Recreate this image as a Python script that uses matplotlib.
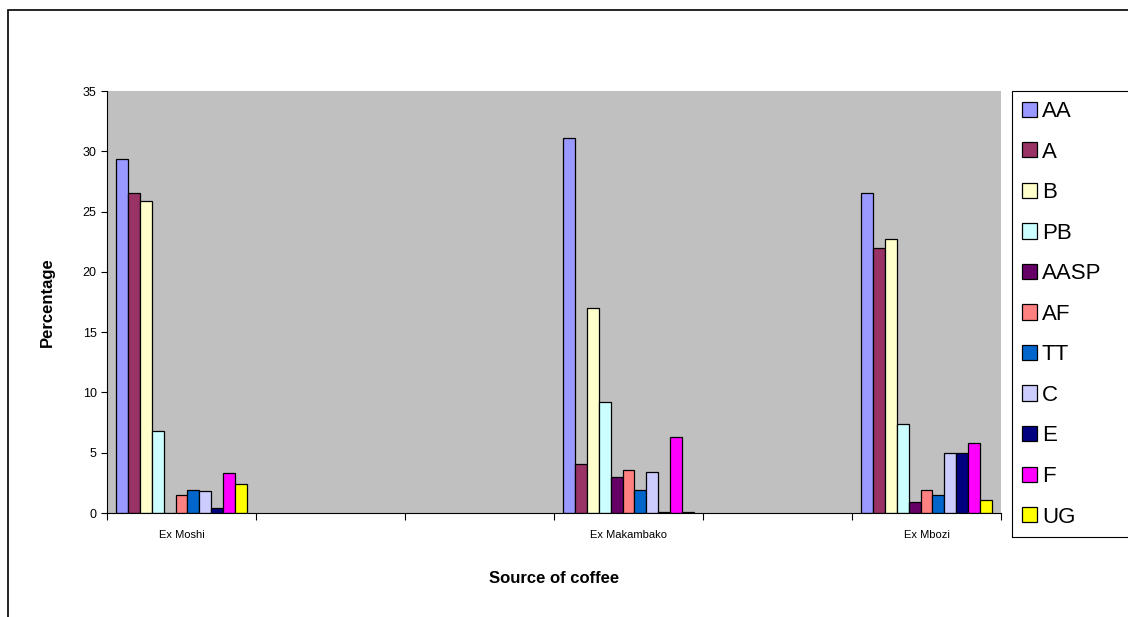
import numpy as np
import matplotlib
matplotlib.use('Agg')
import matplotlib.pyplot as plt
from matplotlib.patches import Rectangle

plt.rcParams['font.family'] = ['Liberation Sans', 'DejaVu Sans']

# coffee grades (series)
grades = ['AA', 'A', 'B', 'PB', 'AASP', 'AF', 'TT', 'C', 'E', 'F', 'UG']
colors = ['#9999FF', '#993366', '#FFFFCC', '#CCFFFF', '#660066', '#FF8080',
          '#0066CC', '#CCCCFF', '#000080', '#FF00FF', '#FFFF00']

# category axis as in the sheet (blank rows kept)
sources = ['Ex Moshi', '', '', 'Ex Makambako', '', 'Ex Mbozi']

# percentage per grade
ex_moshi = [29.4, 26.5, 25.9, 6.8, 0.0, 1.5, 1.9, 1.8, 0.4, 3.3, 2.4]
ex_makambako = [31.1, 4.1, 17.0, 9.2, 3.0, 3.6, 1.9, 3.4, 0.1, 6.3, 0.1]
ex_mbozi = [26.5, 22.0, 22.7, 7.4, 0.9, 1.9, 1.5, 5.0, 5.0, 5.8, 1.1]

values = {'Ex Moshi': ex_moshi, 'Ex Makambako': ex_makambako, 'Ex Mbozi': ex_mbozi}

W, H = 1128, 617
fig = plt.figure(figsize=(W / 100, H / 100), dpi=100)

# outer chart border (runs off the right and bottom of the image)
fig.patches.append(Rectangle((8 / W, -0.5), 1.5, 1.5 - 10 / H, transform=fig.transFigure,
                             fill=False, edgecolor='black', linewidth=1.2))

ax = fig.add_axes([107 / W, 1 - 513 / H, (1001 - 107) / W, (513 - 91) / H])
ax.set_facecolor('#C0C0C0')

n = len(grades)
width = 0.88 / n
for i, src in enumerate(sources):
    if src == '':
        continue
    vals = values[src]
    x = i + 0.06 + width * np.arange(n) + width / 2
    ax.bar(x, vals, width=width, color=colors, edgecolor='black', linewidth=0.9)

ax.set_xlim(0, len(sources))
ax.set_ylim(0, 35)
ax.set_yticks(np.arange(0, 36, 5))
ax.tick_params(axis='y', labelsize=9, length=4, direction='out')

ax.set_xticks(np.arange(len(sources) + 1))
ax.set_xticklabels([])
ax.set_xticks(np.arange(len(sources)) + 0.5, minor=True)
ax.set_xticklabels(sources, minor=True, fontsize=8)
ax.tick_params(axis='x', which='major', length=5, direction='out')
ax.tick_params(axis='x', which='minor', length=0, pad=12.5)

for s in ['top', 'right']:
    ax.spines[s].set_visible(False)

ax.set_ylabel('Percentage', fontsize=12, fontweight='bold', labelpad=20)
ax.set_xlabel('Source of coffee', fontsize=12, fontweight='bold', labelpad=22)

# legend box (runs off the right edge)
fig.patches.append(Rectangle((1012 / W, 1 - 537 / H), 0.5, (537 - 91) / H,
                             transform=fig.transFigure, fill=False,
                             edgecolor='black', linewidth=0.8))
legend_handles = [Rectangle((0, 0), 1, 1, facecolor=c, edgecolor='black', linewidth=0.9)
                  for c in colors]
fig.legend(legend_handles, grades, loc='upper left',
           bbox_to_anchor=(1022 / W, 1 - 101 / H), fontsize=16,
           frameon=False, handlelength=0.68, handleheight=0.68, handletextpad=0.22,
           labelspacing=0.88, borderpad=0, borderaxespad=0)

plt.savefig('out.png', dpi=100)
